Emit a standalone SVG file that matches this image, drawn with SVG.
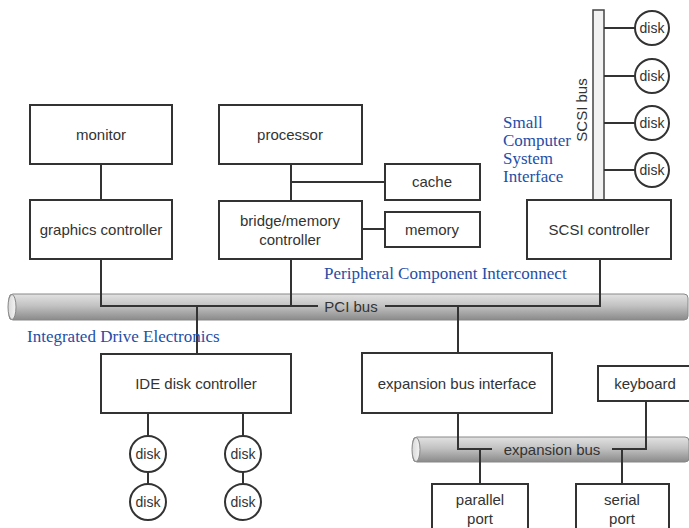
<svg xmlns="http://www.w3.org/2000/svg" width="689" height="528" viewBox="0 0 689 528">
<defs>
<linearGradient id="busg" x1="0" y1="0" x2="0" y2="1">
<stop offset="0" stop-color="#e2e2e2"/>
<stop offset="0.45" stop-color="#c2c2c2"/>
<stop offset="1" stop-color="#8a8a8a"/>
</linearGradient>
<linearGradient id="capg" x1="0" y1="0" x2="1" y2="0">
<stop offset="0" stop-color="#d8d8d8"/>
<stop offset="1" stop-color="#f4f4f4"/>
</linearGradient>
</defs>
<style>
.box{fill:#fff;stroke:#333;stroke-width:2}
.disk{fill:#fff;stroke:#333;stroke-width:2}
.t{font-family:"Liberation Sans",Arial,sans-serif;font-size:15px;fill:#333;text-anchor:middle}
.dt{font-family:"Liberation Sans",Arial,sans-serif;font-size:14px;fill:#333;text-anchor:middle}
.ln{stroke:#333;stroke-width:2;fill:none}
.bus{fill:url(#busg);stroke:#888;stroke-width:1}
.note{font-family:"Liberation Serif","Times New Roman",serif;font-size:17px;fill:#1f4ea6}
</style>

<g id="pci-bus">
<rect class="bus" x="9" y="294" width="679" height="26" rx="4"/>
<ellipse cx="12" cy="307" rx="4" ry="12.5" fill="url(#capg)" stroke="#888"/>
<text class="t" x="351" y="312">PCI bus</text>
</g>
<g id="expansion-bus">
<rect class="bus" x="413" y="437" width="276" height="25" rx="4"/>
<ellipse cx="416" cy="449.5" rx="4" ry="12" fill="url(#capg)" stroke="#888"/>
<text class="t" x="552" y="455">expansion bus</text>
</g>
<g id="scsi-bus">
<rect x="593" y="10" width="11" height="190" fill="#f2f2f2" stroke="#444" stroke-width="1.5"/>
<text class="t" transform="translate(587 110) rotate(-90)">SCSI bus</text>
</g>

<g id="connectors">
<line class="ln" x1="101" y1="164" x2="101" y2="200"/>
<line class="ln" x1="291" y1="164" x2="291" y2="201"/>
<line class="ln" x1="291" y1="182" x2="385" y2="182"/>
<line class="ln" x1="362" y1="229" x2="385" y2="229"/>
<polyline class="ln" points="101,259 101,306 318,306"/>
<line class="ln" x1="291" y1="259" x2="291" y2="306"/>
<polyline class="ln" points="385,306 600,306 600,259"/>
<line class="ln" x1="197" y1="306" x2="197" y2="354"/>
<line class="ln" x1="458" y1="306" x2="458" y2="353"/>
<line class="ln" x1="604" y1="28" x2="635" y2="28"/>
<line class="ln" x1="604" y1="76" x2="635" y2="76"/>
<line class="ln" x1="604" y1="123" x2="635" y2="123"/>
<line class="ln" x1="604" y1="170" x2="635" y2="170"/>
<line class="ln" x1="148" y1="413" x2="148" y2="436"/>
<line class="ln" x1="148" y1="472" x2="148" y2="484"/>
<line class="ln" x1="243" y1="413" x2="243" y2="436"/>
<line class="ln" x1="243" y1="472" x2="243" y2="484"/>
<polyline class="ln" points="458,413 458,449 492,449"/>
<polyline class="ln" points="612,449 646,449 646,401"/>
<line class="ln" x1="480" y1="449" x2="480" y2="484"/>
<line class="ln" x1="622" y1="449" x2="622" y2="484"/>
</g>

<g id="monitor"><rect class="box" x="30" y="105" width="142" height="59"/><text class="t" x="101" y="140">monitor</text></g>
<g id="graphics-controller"><rect class="box" x="30" y="200" width="142" height="59"/><text class="t" x="101" y="235">graphics controller</text></g>
<g id="processor"><rect class="box" x="219" y="105" width="143" height="59"/><text class="t" x="290" y="140">processor</text></g>
<g id="bridge-memory-controller"><rect class="box" x="219" y="201" width="143" height="58"/><text class="t" x="290" y="226">bridge/memory</text><text class="t" x="290" y="245">controller</text></g>
<g id="cache"><rect class="box" x="385" y="164" width="95" height="36"/><text class="t" x="432" y="187">cache</text></g>
<g id="memory"><rect class="box" x="385" y="212" width="95" height="35"/><text class="t" x="432" y="235">memory</text></g>
<g id="scsi-controller"><rect class="box" x="527" y="200" width="144" height="59"/><text class="t" x="599" y="235">SCSI controller</text></g>
<g id="scsi-disk-1"><circle class="disk" cx="652" cy="28" r="17"/><text class="dt" x="652" y="33">disk</text></g>
<g id="scsi-disk-2"><circle class="disk" cx="652" cy="76" r="17"/><text class="dt" x="652" y="81">disk</text></g>
<g id="scsi-disk-3"><circle class="disk" cx="652" cy="123" r="17"/><text class="dt" x="652" y="128">disk</text></g>
<g id="scsi-disk-4"><circle class="disk" cx="652" cy="170" r="17"/><text class="dt" x="652" y="175">disk</text></g>
<g id="ide-disk-controller"><rect class="box" x="101" y="354" width="190" height="59"/><text class="t" x="196" y="389">IDE disk controller</text></g>
<g id="ide-disk-1"><circle class="disk" cx="148" cy="454" r="18"/><text class="dt" x="148" y="459">disk</text></g>
<g id="ide-disk-2"><circle class="disk" cx="148" cy="502" r="18"/><text class="dt" x="148" y="507">disk</text></g>
<g id="ide-disk-3"><circle class="disk" cx="243" cy="454" r="18"/><text class="dt" x="243" y="459">disk</text></g>
<g id="ide-disk-4"><circle class="disk" cx="243" cy="502" r="18"/><text class="dt" x="243" y="507">disk</text></g>
<g id="expansion-bus-interface"><rect class="box" x="362" y="353" width="190" height="60"/><text class="t" x="457" y="389">expansion bus interface</text></g>
<g id="keyboard"><rect class="box" x="598" y="366" width="92" height="35"/><text class="t" x="645" y="389">keyboard</text></g>
<g id="parallel-port"><rect class="box" x="432" y="484" width="96" height="50"/><text class="t" x="480" y="505">parallel</text><text class="t" x="480" y="524">port</text></g>
<g id="serial-port"><rect class="box" x="576" y="484" width="93" height="50"/><text class="t" x="622" y="505">serial</text><text class="t" x="622" y="524">port</text></g>

<g id="notes">
<text class="note" x="503" y="128">Small</text>
<text class="note" x="503" y="146">Computer</text>
<text class="note" x="503" y="164">System</text>
<text class="note" x="503" y="182">Interface</text>
<text class="note" x="324" y="279">Peripheral Component Interconnect</text>
<text class="note" x="27" y="342">Integrated Drive Electronics</text>
</g>
</svg>
